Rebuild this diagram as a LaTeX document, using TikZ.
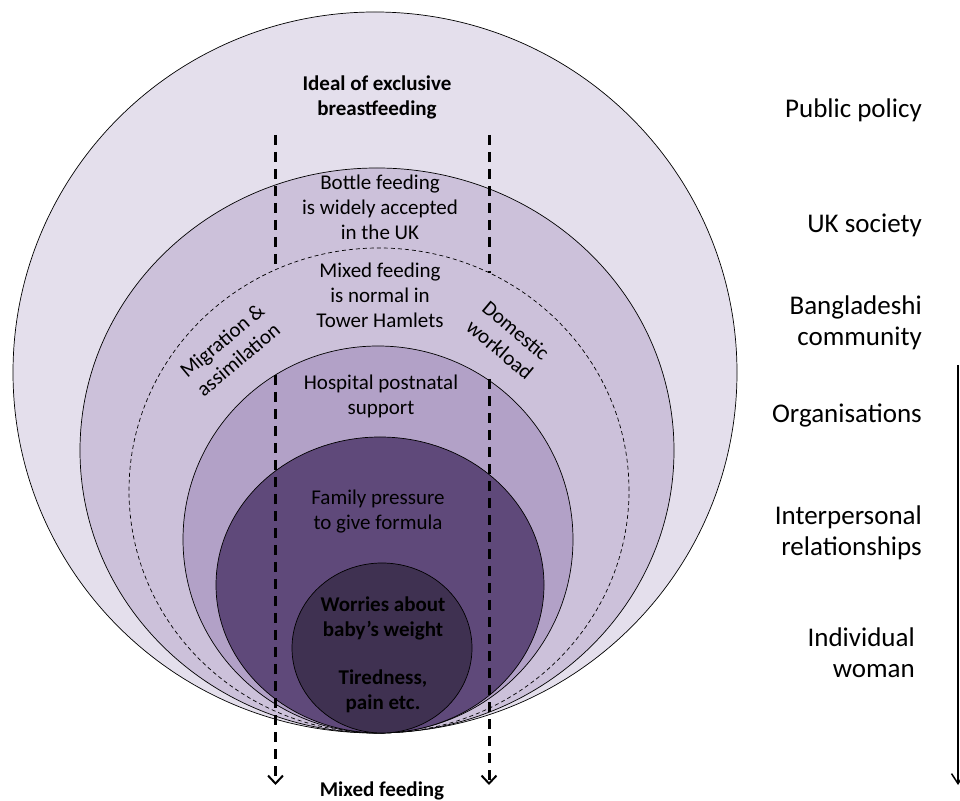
\documentclass[tikz,border=0pt]{standalone}
\usepackage{fontspec}
\setmainfont{Carlito}
\usetikzlibrary{arrows.meta}
\definecolor{policy}{HTML}{E4DFEC}
\definecolor{society}{HTML}{CCC1DA}
\definecolor{orgs}{HTML}{B2A1C7}
\definecolor{inter}{HTML}{5F497A}
\definecolor{woman}{HTML}{3F3151}

\begin{document}
\begin{tikzpicture}[x=1pt,y=1pt,
  ring/.style={draw,line width=0.7pt},
  inside/.style={align=center,inner sep=0pt,font=\fontsize{21}{25}\selectfont},
  strong/.style={inside,font=\fontsize{21}{25}\selectfont\bfseries},
  level/.style={anchor=east,align=right,inner sep=0pt,font=\fontsize{27}{31}\selectfont},
  flow/.style={line width=3pt,dash pattern=on 10pt off 7pt},
  flowtip/.style={flow,-{Straight Barb[length=8pt,width=15pt,line width=2pt]}},
  scale arrow/.style={line width=1.5pt,-{Straight Barb[length=10pt,width=13pt]}}]
  \useasboundingbox (0,0) rectangle (960,800);

  \draw[ring,fill=policy]  (375,427.5) ellipse [x radius=362,y radius=360.5];
  \draw[ring,fill=society] (377,349.5) ellipse [x radius=297,y radius=282.5];
  \draw[line width=0.7pt,dash pattern=on 4pt off 3pt] (379,309.5) ellipse [x radius=250,y radius=242.5];
  \draw[ring,fill=orgs]    (378,260.5) ellipse [x radius=195,y radius=193.5];
  \draw[ring,fill=inter]   (380,215)   ellipse [x radius=164,y radius=148];
  \draw[ring,fill=woman]   (382,152)   ellipse [x radius=90,y radius=85];

  \coordinate (L1) at (275.5,665);
  \coordinate (L2) at (275.5,530);
  \coordinate (L3) at (275.5,425);
  \coordinate (L4) at (275.5,15);
  \coordinate (R1) at (489,665);
  \coordinate (R2) at (489,527);
  \coordinate (R3) at (489,421);
  \coordinate (R4) at (489,15);
  \coordinate (S1) at (958,435);
  \coordinate (S2) at (958,15);

  \draw[flow] (L1) -- (L2);
  \draw[flowtip] (L3) -- (L4);
  \draw[flow] (R1) -- (R2);
  \draw[flowtip] (R3) -- (R4);
  \draw[scale arrow] (S1) -- (S2);

  \node[strong] (ideal)  at (377,702.5) {Ideal of exclusive\\breastfeeding};
  \node[inside] (bottle) at (380,592.5) {Bottle feeding\\is widely accepted\\in the UK};
  \node[inside] (normal) at (380,505)   {Mixed feeding\\is normal in\\Tower Hamlets};
  \node[inside] (hosp)   at (381,404)   {Hospital postnatal\\support};
  \node[inside] (family) at (378,288)   {Family pressure\\to give formula};
  \node[strong] (worry)  at (383,145.5) {Worries about\\baby’s weight\\[23pt]Tiredness,\\pain etc.};
  \node[strong,anchor=base] (result) at (382,3.5) {Mixed feeding};
  \node[inside,rotate=40]  (migr) at (230,450) {Migration \&\\assimilation};
  \node[inside,rotate=-40] (dom)  at (508,460) {Domestic\\workload};

  \node[level] (policyl)  at (922,690)   {Public policy};
  \node[level] (societyl) at (922,575)   {UK society};
  \node[level] (communl)  at (922,477.5) {Bangladeshi\\community};
  \node[level] (orgsl)    at (922,385)   {Organisations};
  \node[level] (interl)   at (922,267.5) {Interpersonal\\relationships};
  \node[level] (womanl)   at (915,147.5) {Individual\\woman};
\end{tikzpicture}
\end{document}
